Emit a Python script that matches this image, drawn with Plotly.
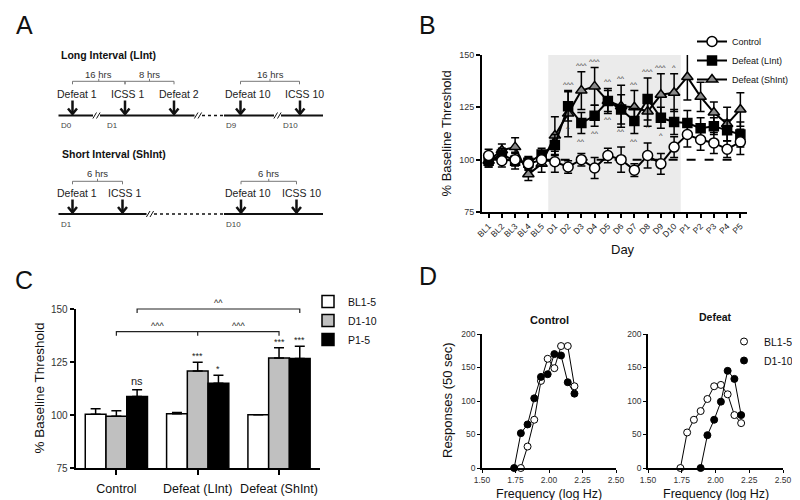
import plotly.graph_objects as go

W, H = 800, 500
FONT = "Liberation Sans, Arial, sans-serif"


def fx(x):
    return x / W


def fy(y):
    return 1 - y / H


# ---------------- Panel B data ----------------
days = ["BL1", "BL2", "BL3", "BL4", "BL5", "D1", "D2", "D3", "D4", "D5", "D6", "D7",
        "D8", "D9", "D10", "P1", "P2", "P3", "P4", "P5"]
control_vals = [102, 99.5, 100, 98, 100, 99, 96.5, 100, 96, 102, 100, 95, 102, 98, 106,
                112, 109.5, 108, 105, 108.5]
control_err = [3, 3, 3, 3, 3, 5, 3, 3, 5, 3.5, 6, 3, 6, 5, 5, 6, 5, 5, 4, 6]
lint_vals = [99.5, 102.5, 99.5, 98.5, 102.5, 107, 125.5, 117.5, 121, 128, 124, 118.5, 129,
             120, 118, 117.5, 115, 116, 114, 112]
lint_err = [3, 3, 4, 3, 3, 5, 7, 5, 5, 5, 7, 6, 10, 5, 6, 6, 5, 4, 5, 6]
shint_vals = [99.5, 104.5, 106, 93, 98, 111.5, 122, 133, 135, 128, 125.5, 125, 123, 131,
              132, 139.5, 130, 122.5, 117, 124]
shint_err = [3, 3, 4.5, 3, 4, 9, 11, 9, 9, 6, 10, 8, 7, 10, 9, 11, 7, 5, 8, 8]
sig_above = ["", "", "", "", "", "", "^^^", "^^^", "^^^", "^^", "^^", "^^", "^^^", "^^^",
             "^", "^^", "", "", "", ""]
sig_below = ["", "", "", "", "", "", "^", "^^", "^^", "^^", "^^", "^^", "^", "^", "",
             "", "", "", "", ""]
sig_hash = ["", "", "", "", "", "", "", "", "", "", "", "", "", "", "", "#", "", "", "", ""]

# ---------------- Panel C data ----------------
c_groups = ["Control", "Defeat (LInt)", "Defeat (ShInt)"]
c_bl = [100.3, 100.6, 100.1]
c_bl_err = [2.6, 0.6, 0]
c_d = [99.4, 120.7, 126.9]
c_d_err = [2.6, 4.2, 4.8]
c_p = [108.7, 115, 126.6]
c_p_err = [3.2, 3.8, 5.8]
c_sig_d = ["", "***", "***"]
c_sig_p = ["ns", "*", "***"]

# ---------------- Panel D data ----------------
dc_bl_x = [1.79, 1.84, 1.89, 1.94, 1.99, 2.04, 2.09, 2.14, 2.19]
dc_bl_y = [0, 32, 72, 130, 163, 149, 182, 182, 122]
dc_d_x = [1.74, 1.79, 1.84, 1.89, 1.94, 1.99, 2.04, 2.09, 2.14, 2.19]
dc_d_y = [0, 52, 65, 104, 136, 140, 170, 168, 128, 111]
dd_bl_x = [1.74, 1.79, 1.84, 1.89, 1.94, 1.99, 2.04, 2.09, 2.14, 2.19]
dd_bl_y = [0, 53, 72, 85, 103, 122, 124, 110, 79, 67]
dd_d_x = [1.89, 1.94, 1.99, 2.04, 2.09, 2.14, 2.19]
dd_d_y = [0, 49, 72, 99, 145, 133, 79]

fig = go.Figure()


def b_trace(name, vals, errs, symbol, fill, size, rank):
    return go.Scatter(
        x=days, y=vals, name=name, mode="lines+markers",
        line=dict(color="black", width=2),
        marker=dict(symbol=symbol, size=size, color=fill, line=dict(color="black", width=1.5)),
        error_y=dict(type="data", array=errs, visible=True, color="black", thickness=1.5, width=4),
        xaxis="x", yaxis="y", legend="legend", legendrank=rank, cliponaxis=False)


fig.add_trace(b_trace("Defeat (ShInt)", shint_vals, shint_err, "triangle-up", "#8a8a8a", 10, 3))
fig.add_trace(b_trace("Defeat (LInt)", lint_vals, lint_err, "square", "black", 9, 2))
fig.add_trace(b_trace("Control", control_vals, control_err, "circle", "white", 10, 1))

for name, vals, errs, color in [("BL1-5", c_bl, c_bl_err, "white"),
                                ("D1-10", c_d, c_d_err, "#c0c0c0"),
                                ("P1-5", c_p, c_p_err, "black")]:
    fig.add_trace(go.Bar(
        x=c_groups, y=vals, name=name,
        marker=dict(color=color, line=dict(color="black", width=1.5)),
        error_y=dict(type="data", array=errs, arrayminus=[0] * len(errs), symmetric=False,
                     color="black", thickness=1.5, width=5),
        xaxis="x2", yaxis="y2", legend="legend2"))

open_m = dict(symbol="circle", size=7, color="white", line=dict(color="black", width=1))
fill_m = dict(symbol="circle", size=7, color="black", line=dict(color="black", width=1))
for xs, ys, mk, xa, ya in [(dc_bl_x, dc_bl_y, open_m, "x3", "y3"),
                           (dc_d_x, dc_d_y, fill_m, "x3", "y3"),
                           (dd_bl_x, dd_bl_y, open_m, "x4", "y4"),
                           (dd_d_x, dd_d_y, fill_m, "x4", "y4")]:
    fig.add_trace(go.Scatter(x=xs, y=ys, mode="lines+markers", marker=mk,
                             line=dict(color="black", width=1), xaxis=xa, yaxis=ya,
                             showlegend=False, cliponaxis=False))
for name, mk in [("BL1-5", open_m), ("D1-10", fill_m)]:
    fig.add_trace(go.Scatter(x=[None], y=[None], mode="markers", marker=mk, name=name,
                             xaxis="x4", yaxis="y4", legend="legend3"))

# ---------------- axes ----------------
tickfont_s = dict(family=FONT, size=9, color="#333")
base_ax = dict(showline=True, linecolor="black", showgrid=False, zeroline=False,
               ticks="outside", tickcolor="black", fixedrange=True)

B_X = (474, 739)
B_Y = (204, 47)
C_X = (67.7, 311.7)
C_Y = (460, 301)
D1_X = (474, 608)
D2_X = (640, 775)
D_Y = (460, 326)

fig.update_layout(
    xaxis=dict(base_ax, domain=[fx(B_X[0]), fx(B_X[1])], anchor="y", type="category",
               range=[-0.5, 19.5], linewidth=2, ticklen=4, tickwidth=1.5, tickangle=-45,
               tickfont=dict(family=FONT, size=8.5, color="#222")),
    yaxis=dict(base_ax, domain=[fy(B_Y[0]), fy(B_Y[1])], anchor="x", range=[75, 150],
               tickvals=[75, 100, 125, 150], linewidth=2, ticklen=4, tickwidth=1.5,
               tickfont=tickfont_s),
    xaxis2=dict(base_ax, domain=[fx(C_X[0]), fx(C_X[1])], anchor="y2", type="category",
                range=[-0.5, 2.5], linewidth=2, ticklen=5, tickwidth=1.5,
                ticklabelstandoff=3,
                tickfont=dict(family=FONT, size=12.5, color="#111")),
    yaxis2=dict(base_ax, domain=[fy(C_Y[0]), fy(C_Y[1])], anchor="x2", range=[75, 150],
                tickvals=[75, 100, 125, 150], linewidth=2, ticklen=4, tickwidth=1.5,
                tickfont=dict(family=FONT, size=10, color="#333")),
    xaxis3=dict(base_ax, domain=[fx(D1_X[0]), fx(D1_X[1])], anchor="y3", range=[1.5, 2.5],
                tickvals=[1.5, 1.75, 2.0, 2.25, 2.5], tickformat=".2f", linewidth=1.5,
                ticklen=3, tickwidth=1, tickfont=dict(family=FONT, size=8.5, color="#333")),
    yaxis3=dict(base_ax, domain=[fy(D_Y[0]), fy(D_Y[1])], anchor="x3", range=[0, 200],
                tickvals=[0, 50, 100, 150, 200], linewidth=1.5, ticklen=3, tickwidth=1,
                tickfont=dict(family=FONT, size=8.5, color="#333")),
    xaxis4=dict(base_ax, domain=[fx(D2_X[0]), fx(D2_X[1])], anchor="y4", range=[1.5, 2.5],
                tickvals=[1.5, 1.75, 2.0, 2.25, 2.5], tickformat=".2f", linewidth=1.5,
                ticklen=3, tickwidth=1, tickfont=dict(family=FONT, size=8.5, color="#333")),
    yaxis4=dict(base_ax, domain=[fy(D_Y[0]), fy(D_Y[1])], anchor="x4", range=[0, 200],
                tickvals=[0, 50, 100, 150, 200], linewidth=1.5, ticklen=3, tickwidth=1,
                tickfont=dict(family=FONT, size=8.5, color="#333")),
    barmode="group", bargap=0.235, bargroupgap=0,
    legend=dict(x=fx(684), y=fy(19), xanchor="left", yanchor="top", bgcolor="rgba(0,0,0,0)",
                font=dict(family=FONT, size=9, color="#111"), itemwidth=30,
                tracegroupgap=0, traceorder="normal"),
    legend2=dict(x=fx(300), y=fy(279), xanchor="left", yanchor="top",
                 bgcolor="rgba(0,0,0,0)", font=dict(family=FONT, size=10.5, color="#111"),
                 itemwidth=30, traceorder="normal"),
    legend3=dict(x=fx(716), y=fy(319), xanchor="left", yanchor="top",
                 bgcolor="rgba(0,0,0,0)", font=dict(family=FONT, size=10.5, color="#111"),
                 itemwidth=30, traceorder="normal"),
    width=W, height=H, margin=dict(l=0, r=0, t=0, b=0, pad=0, autoexpand=False),
    paper_bgcolor="white", plot_bgcolor="white",
    font=dict(family=FONT, color="#111"),
)

shapes = []
ann = []


def txt(x, y, text, size=10, bold=False, color="#111", xanchor="center", yanchor="middle",
        **kw):
    return dict(x=fx(x), y=fy(y), xref="paper", yref="paper",
                text=f"<b>{text}</b>" if bold else text, showarrow=False,
                font=dict(family=FONT, size=size, color=color), xanchor=xanchor,
                yanchor=yanchor, **kw)


def seg(x0, y0, x1, y1, width=2, color="#111", dash="solid"):
    return dict(type="line", xref="paper", yref="paper", x0=fx(x0), y0=fy(y0), x1=fx(x1),
                y1=fy(y1), line=dict(color=color, width=width, dash=dash))


def pth(points, width=1, color="#111"):
    d = ""
    for i, (x, y) in enumerate(points):
        d += ("M" if i == 0 else " L") + f"{fx(x):.5f},{fy(y):.5f}"
    return dict(type="path", xref="paper", yref="paper", path=d,
                line=dict(color=color, width=width))


# ---------------- panel labels ----------------
for lab, x, y in [("A", 16, 17), ("B", 419, 17), ("C", 16, 272), ("D", 420, 268)]:
    ann.append(txt(x, y, lab, size=25, color="#111"))

# ---------------- Panel A schematic ----------------
A_LINT = dict(line_y=107.5, arrow_top=92.5, label_y=85.5, hrs_y=66, brk_y=73.3, day_y=117.5)
A_SHINT = dict(line_y=206, arrow_top=191.5, label_y=185, hrs_y=165, brk_y=173.3, day_y=216.5)
lint_events = ["Defeat 1", "ICSS 1", "Defeat 2", "Defeat 10", "ICSS 10"]
shint_events = ["Defeat 1", "ICSS 1", "Defeat 10", "ICSS 10"]
lint_arrow_x = [64.5, 117, 166, 232.5, 292]
lint_label_x = [68.5, 119, 171, 239.5, 296.5]
shint_arrow_x = [64.5, 114.5, 233, 288.5]
shint_label_x = [69, 116.5, 239.5, 293]


def arrow(x, top, bottom):
    shapes.append(seg(x, top, x, bottom, width=2.5))
    shapes.append(pth([(x - 4.5, bottom - 5.5), (x, bottom), (x + 4.5, bottom - 5.5)],
                      width=2.5))


def brk(xc, y):
    for k in (-1.8, 1.8):
        shapes.append(seg(xc + k - 1.8, y + 3, xc + k + 1.8, y - 3, width=1))


def bracket(x0, x1, y, label, ly):
    shapes.append(pth([(x0, y + 3), (x0, y), (x1, y), (x1, y + 3)], width=1, color="#777"))
    xm = (x0 + x1) / 2
    shapes.append(seg(xm, y, xm, y - 2.5, width=1, color="#777"))
    ann.append(txt(xm, ly, label, size=9.5, color="#333"))


ann.append(txt(51, 47, "Long Interval (LInt)", size=10.5, bold=True, xanchor="left"))
ann.append(txt(51.5, 146.5, "Short Interval (ShInt)", size=10.5, bold=True, xanchor="left"))

# LInt timeline
ly = A_LINT["line_y"]
shapes.append(seg(50.5, ly, 85, ly))
brk(88.5, ly)
shapes.append(seg(92, ly, 186.5, ly))
brk(190, ly)
shapes.append(seg(194, ly, 216, ly, width=1.5, dash="dot"))
shapes.append(seg(216, ly, 266, ly))
brk(269.5, ly)
shapes.append(seg(273, ly, 315, ly))
for name, ax_, lx in zip(lint_events, lint_arrow_x, lint_label_x):
    arrow(ax_, A_LINT["arrow_top"], ly - 1.5)
    ann.append(txt(lx, A_LINT["label_y"], name, size=10.5, color="#222"))
bracket(64.5, 117, A_LINT["brk_y"], "16 hrs", A_LINT["hrs_y"])
bracket(117, 166, A_LINT["brk_y"], "8 hrs", A_LINT["hrs_y"])
bracket(232.5, 291.5, A_LINT["brk_y"], "16 hrs", A_LINT["hrs_y"])
for lab, x in [("D0", 50.5), ("D1", 96.5), ("D9", 216), ("D10", 273)]:
    ann.append(txt(x, A_LINT["day_y"], lab, size=8, color="#444", xanchor="left"))

# ShInt timeline
sy = A_SHINT["line_y"]
shapes.append(seg(50.5, sy, 138.5, sy))
brk(142, sy)
shapes.append(seg(146, sy, 216, sy, width=1.5, dash="dot"))
shapes.append(seg(216, sy, 315, sy))
for name, ax_, lx in zip(shint_events, shint_arrow_x, shint_label_x):
    arrow(ax_, A_SHINT["arrow_top"], sy - 1.5)
    ann.append(txt(lx, A_SHINT["label_y"], name, size=10.5, color="#222"))
bracket(64.5, 114.5, A_SHINT["brk_y"], "6 hrs", A_SHINT["hrs_y"])
bracket(233, 288.5, A_SHINT["brk_y"], "6 hrs", A_SHINT["hrs_y"])
for lab, x in [("D1", 50.5), ("D10", 216)]:
    ann.append(txt(x, A_SHINT["day_y"], lab, size=8, color="#444", xanchor="left"))

# ---------------- Panel B extras ----------------
shapes.append(dict(type="rect", xref="x", yref="y", x0=4.5, x1=14.5, y0=75, y1=150,
                   fillcolor="#ebebeb", line=dict(width=0), layer="below"))
shapes.append(dict(type="line", xref="x", yref="y", x0=0, x1=len(days) - 1, y0=100, y1=100,
                   line=dict(color="black", width=2, dash="dash"), layer="below"))
for i in range(len(days)):
    top = max(lint_vals[i] + lint_err[i], shint_vals[i] + shint_err[i])
    if sig_above[i]:
        ann.append(dict(x=i, y=top, xref="x", yref="y", text=sig_above[i], showarrow=False,
                        yanchor="bottom", yshift=0, font=dict(family=FONT, size=7.5,
                                                              color="#333")))
    if sig_hash[i]:
        ann.append(dict(x=i, y=top, xref="x", yref="y", text=sig_hash[i], showarrow=False,
                        yanchor="bottom", yshift=7, font=dict(family=FONT, size=8,
                                                              color="#333")))
    if sig_below[i]:
        ann.append(dict(x=i, y=lint_vals[i] - lint_err[i], xref="x", yref="y",
                        text=sig_below[i], showarrow=False, yanchor="top", yshift=-1,
                        font=dict(family=FONT, size=7.5, color="#333")))
ann.append(txt(438, 125.5, "% Baseline Threshold", size=13, textangle=-90))
ann.append(txt(615, 241, "Day", size=13))

# ---------------- Panel C extras ----------------
bar_off = (1 - 0.235) / 3
for i in range(3):
    if c_sig_d[i]:
        ann.append(dict(x=i, y=c_d[i] + c_d_err[i], xref="x2", yref="y2", text=c_sig_d[i],
                        showarrow=False, yanchor="bottom", yshift=-1,
                        font=dict(family=FONT, size=9, color="#222")))
    if c_sig_p[i]:
        ann.append(dict(x=i + bar_off, y=c_p[i] + c_p_err[i], xref="x2", yref="y2",
                        text=c_sig_p[i], showarrow=False, yanchor="bottom",
                        yshift=-1 if c_sig_p[i] != "ns" else 1,
                        font=dict(family=FONT, size=9 if c_sig_p[i] != "ns" else 11,
                                  color="#222")))


def c_px(idx):
    return C_X[0] + (idx + 0.5) / 3 * (C_X[1] - C_X[0])


def c_py(v):
    return C_Y[0] + (v - 75) / 75 * (C_Y[1] - C_Y[0])


# lower bracket: D1-10 comparisons
yl = c_py(139.3)
shapes.append(pth([(c_px(0), yl + 4), (c_px(0), yl), (c_px(2), yl), (c_px(2), yl + 4)],
                  width=1.2, color="#222"))
shapes.append(seg(c_px(1), yl, c_px(1), yl + 4, width=1.2, color="#222"))
ann.append(txt(c_px(0.5), yl - 6, "^^^", size=9, color="#222"))
ann.append(txt(c_px(1.5), yl - 6, "^^^", size=9, color="#222"))
# upper bracket: P1-5 comparison
yu = c_py(150)
shapes.append(pth([(c_px(bar_off), yu + 4), (c_px(bar_off), yu), (c_px(2 + bar_off), yu),
                   (c_px(2 + bar_off), yu + 4)], width=1.2, color="#222"))
ann.append(txt(c_px(1.25), yu - 6, "^^", size=9, color="#222"))
ann.append(txt(30.5, 380, "% Baseline Threshold", size=13.5, textangle=-90))

# ---------------- Panel D extras ----------------
ann.append(txt(541.5, 311.5, "Control", size=11, bold=True))
ann.append(txt(707, 309, "Defeat", size=10.5, bold=True))
ann.append(txt(439, 392, "Responses (50 sec)", size=13, textangle=-90))
ann.append(txt(541, 486, "Frequency (log Hz)", size=12.5))
ann.append(txt(707.5, 486, "Frequency (log Hz)", size=12.5))

fig.update_layout(shapes=shapes, annotations=ann)
fig.write_html("out.html")
